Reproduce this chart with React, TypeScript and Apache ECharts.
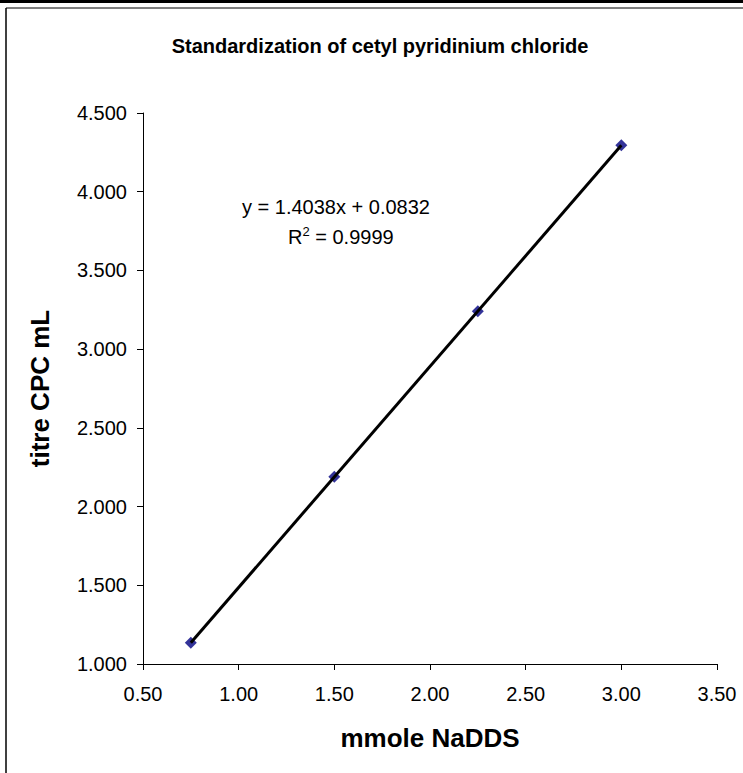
import React, { useEffect, useRef } from "react";
import * as echarts from "echarts";

const xValues = [0.75, 1.5, 2.25, 3.0];
const yValues = [1.135, 2.19, 3.24, 4.295];
const xTicks = { min: 0.5, max: 3.5, interval: 0.5 };
const yTicks = { min: 1.0, max: 4.5, interval: 0.5 };
const titleText = "Standardization of cetyl pyridinium chloride";
const xName = "mmole NaDDS";
const yName = "titre CPC mL";
const eqText = "y = 1.4038x + 0.0832";
const r2Text = "R{sup|2} = 0.9999";

function regression(xs: number[], ys: number[]) {
  const n = xs.length;
  const mx = xs.reduce((a, b) => a + b, 0) / n;
  const my = ys.reduce((a, b) => a + b, 0) / n;
  let sxy = 0, sxx = 0;
  for (let i = 0; i < n; i++) {
    sxy += (xs[i] - mx) * (ys[i] - my);
    sxx += (xs[i] - mx) * (xs[i] - mx);
  }
  const slope = sxy / sxx;
  return { slope, intercept: my - slope * mx };
}

export default function App() {
  const ref = useRef<HTMLDivElement>(null);
  useEffect(() => {
    if (!ref.current) return;
    const chart = echarts.init(ref.current, undefined, { renderer: "svg" });
    const { slope, intercept } = regression(xValues, yValues);
    const x0 = Math.min(...xValues);
    const x1 = Math.max(...xValues);
    const trend = [
      [x0, slope * x0 + intercept],
      [x1, slope * x1 + intercept],
    ];
    const font = "Liberation Sans, Arial, sans-serif";
    chart.setOption({
      animation: false,
      backgroundColor: "#ffffff",
      textStyle: { fontFamily: font },
      title: {
        text: titleText,
        left: 375,
        top: 31,
        textAlign: "center",
        textStyle: { fontSize: 20, fontWeight: "bold", color: "#000", fontFamily: font },
      },
      grid: { left: 143, right: 26, top: 113, bottom: 109, containLabel: false },
      xAxis: {
        type: "value",
        min: xTicks.min,
        max: xTicks.max,
        interval: xTicks.interval,
        name: xName,
        nameLocation: "middle",
        nameGap: 61,
        nameTextStyle: { fontSize: 26, fontWeight: "bold", color: "#000", fontFamily: font },
        axisLine: { show: true, lineStyle: { color: "#000", width: 1 } },
        axisTick: { show: true, inside: false, length: 6, lineStyle: { color: "#000" } },
        axisLabel: {
          fontSize: 20,
          color: "#000",
          margin: 20,
          fontFamily: font,
          formatter: (v: number) => v.toFixed(2),
          showMinLabel: true,
          showMaxLabel: true,
        },
        splitLine: { show: false },
      },
      yAxis: {
        type: "value",
        min: yTicks.min,
        max: yTicks.max,
        interval: yTicks.interval,
        name: yName,
        nameLocation: "middle",
        nameGap: 90,
        nameRotate: 90,
        nameTextStyle: { fontSize: 26, fontWeight: "bold", color: "#000", fontFamily: font },
        axisLine: { show: true, lineStyle: { color: "#000", width: 1 } },
        axisTick: { show: true, inside: false, length: 6, lineStyle: { color: "#000" } },
        axisLabel: {
          fontSize: 20,
          color: "#000",
          margin: 16,
          fontFamily: font,
          formatter: (v: number) => v.toFixed(3),
          showMinLabel: true,
          showMaxLabel: true,
        },
        splitLine: { show: false },
      },
      series: [
        {
          type: "scatter",
          data: xValues.map((x, i) => [x, yValues[i]]),
          symbol: "diamond",
          symbolSize: 12,
          itemStyle: { color: "#000080" },
          z: 2,
        },
        {
          type: "line",
          data: trend,
          showSymbol: false,
          symbol: "none",
          lineStyle: { color: "#000", width: 3 },
          z: 3,
        },
      ],
      graphic: [
        {
          type: "text",
          left: 242,
          top: 197,
          style: { text: eqText, fontSize: 20, fill: "#000", fontFamily: font },
        },
        {
          type: "text",
          left: 288,
          top: 225,
          style: {
            text: r2Text,
            fontSize: 20,
            fill: "#000",
            fontFamily: font,
            rich: {
              sup: { fontSize: 13, verticalAlign: "top", padding: [0, 0, 10, 0], fill: "#000", fontFamily: font },
            },
          },
        },
        {
          type: "line",
          shape: { x1: 0, y1: 1.5, x2: 743, y2: 1.5 },
          style: { stroke: "#000", lineWidth: 3 },
        },
        {
          type: "line",
          shape: { x1: 6, y1: 8, x2: 6, y2: 773 },
          style: { stroke: "#000", lineWidth: 1.5 },
        },
        {
          type: "line",
          shape: { x1: 6, y1: 8, x2: 743, y2: 8 },
          style: { stroke: "#000", lineWidth: 1 },
        },
      ],
    });
    return () => chart.dispose();
  }, []);
  return (
    <div
      ref={ref}
      style={{ position: "fixed", left: 0, top: 0, width: 743, height: 773 }}
    />
  );
}
